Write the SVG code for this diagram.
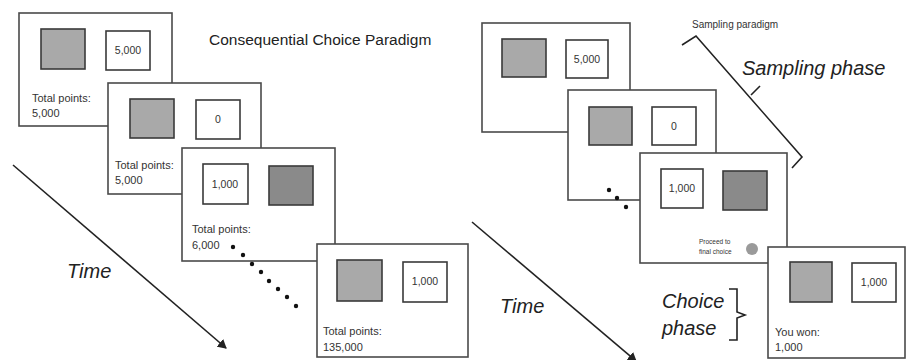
<svg xmlns="http://www.w3.org/2000/svg" width="906" height="360" viewBox="0 0 906 360">
<defs>
<style>
.card{fill:#fff;stroke:#4a4a4a;stroke-width:1.6}
.box{fill:#fff;stroke:#3a3a3a;stroke-width:1.6}
.g1{fill:#a9a9a9;stroke:#3a3a3a;stroke-width:1.6}
.g2{fill:#8a8a8a;stroke:#3a3a3a;stroke-width:1.6}
.num{font-family:"Liberation Sans",Arial,sans-serif;font-size:10.5px;fill:#333;text-anchor:middle}
.lbl{font-family:"Liberation Sans",Arial,sans-serif;font-size:11px;fill:#333}
.big{font-family:"Liberation Sans",Arial,sans-serif;font-size:20px;font-style:italic;fill:#222}
.dot{fill:#111}
.ln{stroke:#222;stroke-width:1.6;fill:none}
</style>
<marker id="ah" markerWidth="10" markerHeight="10" refX="8" refY="5" orient="auto" markerUnits="userSpaceOnUse">
<path d="M0,0 L9,5 L0,10 Z" fill="#222"/>
</marker>
</defs>
<rect width="906" height="360" fill="#fff"/>

<g id="title-left"><text x="209" y="45" font-family="Liberation Sans,Arial,sans-serif" font-size="15.5" fill="#222">Consequential Choice Paradigm</text></g>

<g id="connectors">
<line class="ln" x1="13" y1="165" x2="226" y2="348" marker-end="url(#ah)"/>
<line class="ln" x1="472" y1="222" x2="636" y2="361" marker-end="url(#ah)"/>
<polyline class="ln" points="682,45 696,36 802,157 792,168"/>
<line class="ln" x1="751" y1="95" x2="760" y2="86"/>
<polyline class="ln" points="729,289 737,289 737,312 745,315 737,318 737,340 729,340"/>
</g>

<g id="card-l1">
<rect class="card" x="19" y="13" width="153" height="113"/>
<rect class="g1" x="41" y="29" width="44" height="40"/>
<rect class="box" x="106" y="31" width="44" height="39"/>
<text class="num" x="128" y="54">5,000</text>
<text class="lbl" x="32" y="102">Total points:</text>
<text class="lbl" x="32" y="117">5,000</text>
</g>

<g id="card-l2">
<rect class="card" x="108" y="83" width="153" height="111"/>
<rect class="g1" x="130" y="99" width="44" height="39"/>
<rect class="box" x="196" y="100" width="44" height="39"/>
<text class="num" x="218" y="123">0</text>
<text class="lbl" x="115" y="169">Total points:</text>
<text class="lbl" x="115" y="184">5,000</text>
</g>

<g id="card-l3">
<rect class="card" x="182" y="148" width="153" height="113"/>
<rect class="box" x="203" y="164" width="45" height="40"/>
<text class="num" x="225" y="188">1,000</text>
<rect class="g2" x="269" y="166" width="44" height="39"/>
<text class="lbl" x="192" y="233">Total points:</text>
<text class="lbl" x="192" y="249">6,000</text>
</g>

<g id="dots-left">
<circle class="dot" cx="233" cy="247" r="2.2"/>
<circle class="dot" cx="243" cy="255" r="2.2"/>
<circle class="dot" cx="252" cy="264" r="2.2"/>
<circle class="dot" cx="261" cy="272" r="2.2"/>
<circle class="dot" cx="269" cy="281" r="2.2"/>
<circle class="dot" cx="278" cy="289" r="2.2"/>
<circle class="dot" cx="287" cy="297" r="2.2"/>
<circle class="dot" cx="296" cy="306" r="2.2"/>
</g>

<g id="card-l4">
<rect class="card" x="317" y="244" width="151" height="113"/>
<rect class="g1" x="337" y="260" width="45" height="41"/>
<rect class="box" x="403" y="262" width="44" height="40"/>
<text class="num" x="425" y="285">1,000</text>
<text class="lbl" x="323" y="335">Total points:</text>
<text class="lbl" x="323" y="351">135,000</text>
</g>

<g id="time-left"><text class="big" x="67" y="278">Time</text></g>

<g id="card-r1">
<rect class="card" x="482" y="23" width="148" height="109"/>
<rect class="g1" x="502" y="39" width="44" height="38"/>
<rect class="box" x="566" y="40" width="42" height="38"/>
<text class="num" x="587" y="63">5,000</text>
</g>

<g id="card-r2">
<rect class="card" x="568" y="90" width="148" height="110"/>
<rect class="g1" x="589" y="107" width="43" height="38"/>
<rect class="box" x="652" y="107" width="44" height="38"/>
<text class="num" x="674" y="130">0</text>
</g>

<g id="dots-right">
<circle class="dot" cx="609" cy="190" r="2.2"/>
<circle class="dot" cx="617" cy="198" r="2.2"/>
<circle class="dot" cx="626" cy="207" r="2.2"/>
</g>

<g id="card-r3">
<rect class="card" x="640" y="153" width="147" height="110"/>
<rect class="box" x="661" y="169" width="42" height="39"/>
<text class="num" x="682" y="192">1,000</text>
<rect class="g2" x="723" y="171" width="44" height="39"/>
<text x="699" y="244" font-family="Liberation Sans,Arial,sans-serif" font-size="6.5" fill="#333">Proceed to</text>
<text x="699" y="254" font-family="Liberation Sans,Arial,sans-serif" font-size="6.5" fill="#333">final choice</text>
<circle cx="752" cy="249" r="6" fill="#9a9a9a"/>
</g>

<g id="card-r4">
<rect class="card" x="768" y="247" width="137" height="111"/>
<rect class="g1" x="790" y="262" width="42" height="40"/>
<rect class="box" x="852" y="263" width="44" height="39"/>
<text class="num" x="874" y="286">1,000</text>
<text class="lbl" x="775" y="336">You won:</text>
<text class="lbl" x="775" y="351">1,000</text>
</g>

<g id="labels-right">
<text x="692" y="28" font-family="Liberation Sans,Arial,sans-serif" font-size="10" fill="#333">Sampling paradigm</text>
<text class="big" x="742" y="75">Sampling phase</text>
<text class="big" x="500" y="313">Time</text>
<text class="big" x="662" y="308">Choice</text>
<text class="big" x="662" y="335">phase</text>
</g>
</svg>
